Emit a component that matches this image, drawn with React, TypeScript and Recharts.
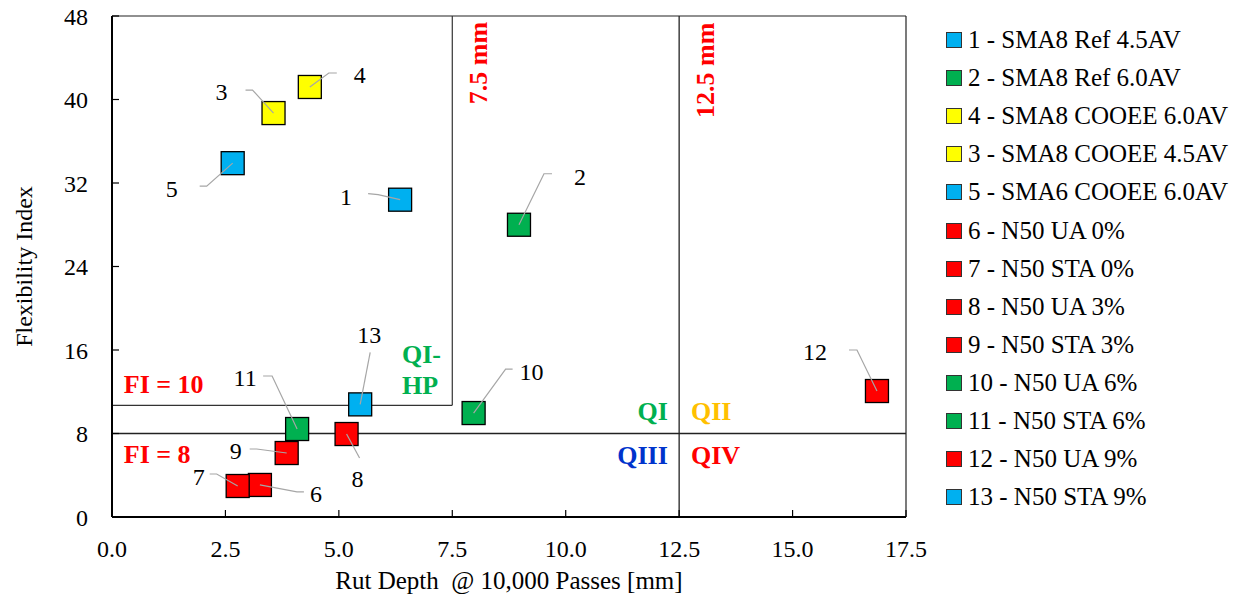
import {
  ScatterChart,
  Scatter,
  XAxis,
  YAxis,
  ReferenceLine,
  ReferenceDot,
} from 'recharts'

const FONT = '"Liberation Serif", "Times New Roman", serif'

// series, in legend order
const ids = ['1', '2', '4', '3', '5', '6', '7', '8', '9', '10', '11', '12', '13']
const names = [
  '1 - SMA8 Ref 4.5AV',
  '2 - SMA8 Ref 6.0AV',
  '4 - SMA8 COOEE 6.0AV',
  '3 - SMA8 COOEE 4.5AV',
  '5 - SMA6 COOEE 6.0AV',
  '6 - N50 UA 0%',
  '7 - N50 STA 0%',
  '8 - N50 UA 3%',
  '9 - N50 STA 3%',
  '10 - N50 UA 6%',
  '11 - N50 STA 6%',
  '12 - N50 UA 9%',
  '13 - N50 STA 9%',
]
const rutDepth = [6.35, 8.97, 4.36, 3.56, 2.66, 3.26, 2.77, 5.17, 3.85, 7.97, 4.08, 16.86, 5.47]
const flexIndex = [30.4, 28.0, 41.2, 38.7, 33.9, 3.07, 2.97, 7.95, 6.13, 9.96, 8.43, 12.07, 10.79]
const colors = [
  '#00B0F0', '#00B050', '#FFFF00', '#FFFF00', '#00B0F0', '#FF0000', '#FF0000',
  '#FF0000', '#FF0000', '#00B050', '#00B050', '#FF0000', '#00B0F0',
]

const xTicks = [0, 2.5, 5, 7.5, 10, 12.5, 15, 17.5]
const yTicks = [0, 8, 16, 24, 32, 40, 48]

// thresholds
const fiLimit = 8
const fiHp = 10.7
const rutHp = 7.5
const rutLimit = 12.5

// callout offsets (px from marker centre): elbow, end of leader, text centre
const callouts: Record<string, number[]> = {
  '1': [-22, -5, -32, -6, -54, -3],
  '2': [25, -51, 33, -51, 61, -48],
  '3': [-21, -23, -28, -23, -52, -21],
  '4': [19, -14, 27, -14, 50, -12],
  '5': [-26, 23, -33, 23, -61, 26],
  '6': [37, 7, 44, 7, 56, 9],
  '7': [-21, -12, -28, -12, -39, -9],
  '8': [13, 24, 13, 24, 11, 45],
  '9': [-30, -4, -37, -4, -51, -2],
  '10': [32, -44, 39, -44, 58, -41],
  '11': [-25, -53, -34, -53, -52, -51],
  '12': [-20, -41, -28, -41, -62, -39],
  '13': [10, -52, 10, -52, 9, -69],
}

function makeShape(id: string, color: string) {
  return (p: any) => {
    const { cx, cy } = p
    const [ex, ey, lx, ly, tx, ty] = callouts[id]
    const s = 23
    return (
      <g>
        <rect x={cx - s / 2} y={cy - s / 2} width={s} height={s} fill={color} stroke="#000" strokeWidth={1.3} />
        <polyline
          points={`${cx},${cy} ${cx + ex},${cy + ey} ${cx + lx},${cy + ly}`}
          fill="none"
          stroke="#A6A6A6"
          strokeWidth={1.2}
        />
        <text x={cx + tx} y={cy + ty} textAnchor="middle" dominantBaseline="central" fontSize={24} fontFamily={FONT} fill="#000">
          {id}
        </text>
      </g>
    )
  }
}

function textAt(value: string, color: string, anchor: string, angle = 0) {
  return (p: any) => (
    <text
      x={p.cx}
      y={p.cy}
      textAnchor={anchor}
      dominantBaseline="central"
      fontSize={26}
      fontWeight="bold"
      fontFamily={FONT}
      fill={color}
      transform={angle ? `rotate(${angle} ${p.cx} ${p.cy})` : undefined}
    >
      {value}
    </text>
  )
}

const notes: [number, number, string, string, string, number][] = [
  [0.26, 12.74, 'FI = 10', '#FF0000', 'start', 0],
  [0.26, 6.03, 'FI = 8', '#FF0000', 'start', 0],
  [8.07, 43.5, '7.5 mm', '#FF0000', 'middle', -90],
  [13.09, 42.8, '12.5 mm', '#FF0000', 'middle', -90],
  [6.39, 15.6, 'QI-', '#00B050', 'start', 0],
  [6.39, 12.64, 'HP', '#00B050', 'start', 0],
  [12.25, 10.15, 'QI', '#00B050', 'end', 0],
  [12.76, 10.15, 'QII', '#FFC000', 'start', 0],
  [12.25, 5.94, 'QIII', '#0033CC', 'end', 0],
  [12.76, 5.94, 'QIV', '#FF0000', 'start', 0],
]

function LegendBox() {
  return (
    <div style={{ position: 'absolute', left: 938, top: 13, fontFamily: FONT, fontSize: 25, color: '#000' }}>
      {names.map((n, i) => (
        <div key={n} style={{ height: 38.1, display: 'flex', alignItems: 'center', whiteSpace: 'nowrap' }}>
          <span
            style={{
              display: 'inline-block',
              width: 14,
              height: 14,
              background: colors[i],
              border: '1px solid #333',
              marginRight: 6,
            }}
          />
          {n}
        </div>
      ))}
    </div>
  )
}

export default function App() {
  return (
    <div style={{ position: 'relative', width: 1232, height: 591 }}>
      <ScatterChart width={1232} height={591} margin={{ top: 8, right: 334, bottom: 0, left: 0 }}>
        <XAxis
          type="number"
          dataKey="x"
          domain={[0, 17.5]}
          ticks={xTicks}
          interval={0}
          tickFormatter={(v: number) => v.toFixed(1)}
          height={82}
          tickSize={-7}
          tickMargin={30}
          axisLine={{ stroke: '#000', strokeWidth: 2 }}
          tickLine={{ stroke: '#000', strokeWidth: 1.2 }}
          tick={{ fill: '#000', fontSize: 24, fontFamily: FONT }}
          label={{
            content: ({ viewBox }: any) => (
              <text
                x={viewBox.x + viewBox.width / 2}
                y={viewBox.y + 63}
                textAnchor="middle"
                dominantBaseline="central"
                fontSize={25}
                fontFamily={FONT}
                fill="#000"
                style={{ whiteSpace: 'pre' }}
              >
                Rut Depth  @ 10,000 Passes [mm]
              </text>
            ),
          }}
        />
        <YAxis
          type="number"
          dataKey="y"
          domain={[0, 48]}
          ticks={yTicks}
          interval={0}
          width={104}
          tickSize={-7}
          tickMargin={31}
          axisLine={{ stroke: '#000', strokeWidth: 2 }}
          tickLine={{ stroke: '#000', strokeWidth: 1.2 }}
          tick={{ fill: '#000', fontSize: 24, fontFamily: FONT }}
          label={{
            content: ({ viewBox }: any) => {
              const x = viewBox.x + 16
              const y = viewBox.y + viewBox.height / 2
              return (
                <text
                  x={x}
                  y={y}
                  textAnchor="middle"
                  dominantBaseline="central"
                  fontSize={24}
                  fontFamily={FONT}
                  fill="#000"
                  transform={`rotate(-90 ${x} ${y})`}
                >
                  Flexibility Index
                </text>
              )
            },
          }}
        />
        <ReferenceLine y={48} stroke="#222" strokeWidth={1.2} />
        <ReferenceLine x={17.5} stroke="#222" strokeWidth={1.2} />
        <ReferenceLine y={fiLimit} stroke="#222" strokeWidth={1.3} />
        <ReferenceLine x={rutLimit} stroke="#222" strokeWidth={1.3} />
        <ReferenceLine segment={[{ x: rutHp, y: fiHp }, { x: rutHp, y: 48 }]} stroke="#333" strokeWidth={1.2} />
        <ReferenceLine segment={[{ x: 0, y: fiHp }, { x: rutHp, y: fiHp }]} stroke="#333" strokeWidth={1.2} />
        {notes.map(([x, y, v, c, a, ang]) => (
          <ReferenceDot key={v} x={x} y={y} r={0} shape={textAt(v, c, a, ang)} />
        ))}
        {ids.map((id, i) => (
          <Scatter
            key={id}
            name={names[i]}
            data={[{ x: rutDepth[i], y: flexIndex[i] }]}
            fill={colors[i]}
            shape={makeShape(id, colors[i])}
            isAnimationActive={false}
          />
        ))}
      </ScatterChart>
      <LegendBox />
    </div>
  )
}
